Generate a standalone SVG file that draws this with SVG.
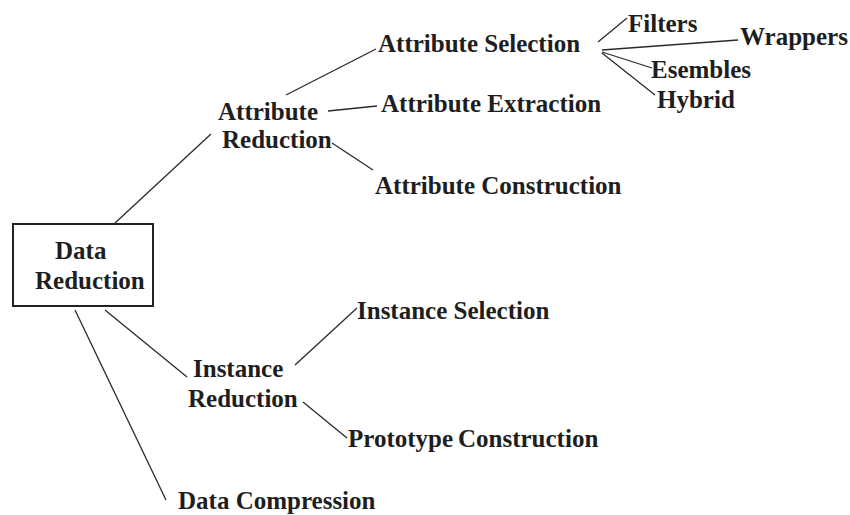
<svg xmlns="http://www.w3.org/2000/svg" width="850" height="515" viewBox="0 0 850 515">
<style>
text{font-family:"Liberation Serif","Times New Roman",serif;font-weight:bold;font-size:25px;fill:#1e1e1e}
.box{fill:#fff;stroke:#222;stroke-width:2}
.c line{stroke:#2a2a2a;stroke-width:1.3;fill:none}
</style>
<rect width="850" height="515" fill="#fff"/>
<g class="c" id="connectors">
<line x1="115" y1="223" x2="211" y2="134"/>
<line x1="105" y1="310" x2="187" y2="377"/>
<line x1="75" y1="310" x2="166" y2="500"/>
<line x1="286" y1="95" x2="376" y2="49"/>
<line x1="328" y1="111" x2="377" y2="106"/>
<line x1="332" y1="143" x2="373" y2="170"/>
<line x1="598" y1="42" x2="627" y2="18"/>
<line x1="602" y1="50" x2="738" y2="40"/>
<line x1="602" y1="52" x2="652" y2="68"/>
<line x1="602" y1="53" x2="655" y2="95"/>
<line x1="295" y1="365" x2="357" y2="308"/>
<line x1="303" y1="402" x2="347" y2="438"/>
</g>
<g id="data-reduction">
<rect class="box" x="13" y="224" width="140" height="82"/>
<text x="55" y="259" font-size="24">Data</text>
<text x="35" y="289" font-size="24">Reduction</text>
</g>
<g id="attribute-reduction">
<text x="218" y="120">Attribute</text>
<text x="222" y="148">Reduction</text>
</g>
<g id="attribute-selection"><text x="378" y="52">Attribute Selection</text></g>
<g id="attribute-extraction"><text x="381" y="112">Attribute Extraction</text></g>
<g id="attribute-construction"><text x="375" y="194">Attribute Construction</text></g>
<g id="filters"><text x="628" y="32">Filters</text></g>
<g id="wrappers"><text x="740" y="45">Wrappers</text></g>
<g id="esembles"><text x="651" y="78">Esembles</text></g>
<g id="hybrid"><text x="657" y="108">Hybrid</text></g>
<g id="instance-reduction">
<text x="193" y="377">Instance</text>
<text x="188" y="407">Reduction</text>
</g>
<g id="instance-selection"><text x="357" y="319" font-size="26">Instance Selection</text></g>
<g id="prototype-construction">
<text x="348" y="447">Prototype</text>
<text x="458" y="447">Construction</text>
</g>
<g id="data-compression"><text x="178" y="509" font-size="26">Data Compression</text></g>
</svg>
